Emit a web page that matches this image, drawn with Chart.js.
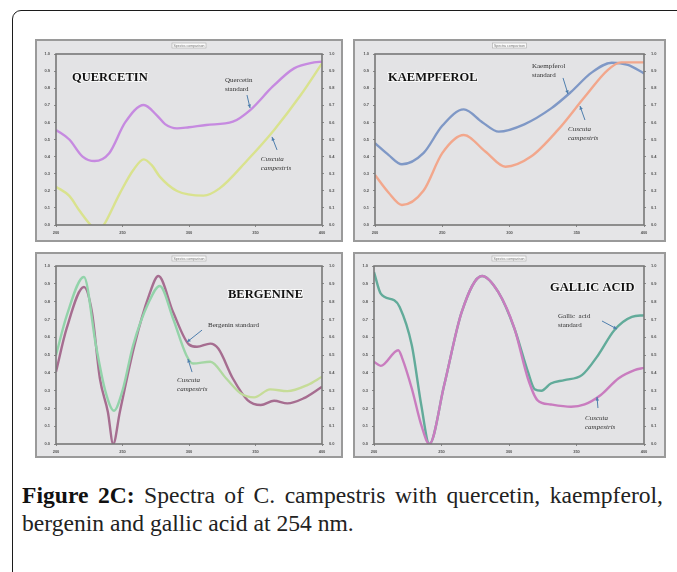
<!DOCTYPE html>
<html>
<head>
<meta charset="utf-8">
<title>Figure 2C</title>
<script src="https://cdn.jsdelivr.net/npm/chart.js@4.4.1/dist/chart.umd.min.js"></script>
<style>
    html, body { margin: 0; padding: 0; background: #fff; width: 677px; height: 572px; overflow: hidden; }
    #frame { position: absolute; left: 12px; top: 10px; width: 720px; height: 620px; border: 1.5px solid #1c1c1c; border-radius: 9px; box-sizing: border-box; }
    .panel { position: absolute; box-sizing: border-box; border: 2px solid #9a9a9a; background: #e5e5e7; }
    .panel canvas { position: absolute; left: 0; top: 0; }
    #caption { position: absolute; left: 22px; top: 481px; width: 641px; font-family: "Liberation Serif", serif; font-size: 23.6px; line-height: 28px; color: #222; }
    #caption .l1 { text-align: justify; text-align-last: justify; white-space: nowrap; }
    #caption b { color: #111; }
</style>
</head>
<body>
<div id="frame"></div>
<div class="panel" id="p0"><canvas id="c0"></canvas></div>
<div class="panel" id="p1"><canvas id="c1"></canvas></div>
<div class="panel" id="p2"><canvas id="c2"></canvas></div>
<div class="panel" id="p3"><canvas id="c3"></canvas></div>
<div id="caption">
    <div class="l1"><b>Figure 2C:</b> Spectra of C. campestris with quercetin, kaempferol,</div>
    <div>bergenin and gallic acid at 254 nm.</div>
</div>

<script>
// ---------- tick labels ----------
const xTickLabels = ["200", "250", "300", "350", "400"];
const yTickLabels = ["0.0", "0.1", "0.2", "0.3", "0.4", "0.5", "0.6", "0.7", "0.8", "0.9", "1.0"];

// ---------- quercetin ----------
const quercetinStdNm  = [200, 210, 220, 229, 240, 252, 266, 276, 282, 291, 300, 313, 333, 346, 363, 379, 394, 400];
const quercetinStdAbs = [0.556, 0.50, 0.40, 0.374, 0.42, 0.60, 0.702, 0.64, 0.59, 0.565, 0.572, 0.585, 0.604, 0.672, 0.81, 0.916, 0.951, 0.955];
const quercetinCcNm   = [200, 210, 218, 226, 232, 236, 248, 258, 266, 272, 278, 291, 311, 323, 344, 364, 384, 400];
const quercetinCcAbs  = [0.224, 0.17, 0.08, 0.0, -0.04, 0.0, 0.185, 0.32, 0.384, 0.35, 0.283, 0.199, 0.172, 0.214, 0.38, 0.556, 0.76, 0.945];

// ---------- kaempferol ----------
const kaempferolStdNm  = [200, 210, 220, 236, 250, 266, 280, 292, 311, 331, 346, 361, 376, 388, 400];
const kaempferolStdAbs = [0.478, 0.41, 0.355, 0.42, 0.58, 0.676, 0.60, 0.546, 0.589, 0.682, 0.78, 0.891, 0.949, 0.936, 0.887];
const kaempferolCcNm   = [200, 210, 220, 236, 250, 266, 282, 297, 316, 336, 356, 373, 383, 400];
const kaempferolCcAbs  = [0.292, 0.19, 0.117, 0.20, 0.42, 0.526, 0.43, 0.341, 0.40, 0.556, 0.75, 0.906, 0.951, 0.951];

// ---------- bergenin ----------
const bergeninStdNm  = [200, 208, 221, 227, 233, 239, 243, 248, 259, 270, 277, 288, 300, 306, 316, 322, 333, 344, 354, 364, 374, 386, 400];
const bergeninStdAbs = [0.406, 0.649, 0.882, 0.742, 0.368, 0.18, 0.0, 0.18, 0.555, 0.836, 0.944, 0.742, 0.559, 0.546, 0.564, 0.536, 0.368, 0.247, 0.219, 0.243, 0.228, 0.256, 0.321];
const bergeninCcNm   = [200, 208, 221, 230, 237, 243.6, 250, 258, 270, 278, 288, 298, 303, 316, 328, 339, 349, 361, 374, 389, 400];
const bergeninCcAbs  = [0.499, 0.72, 0.938, 0.555, 0.30, 0.187, 0.30, 0.555, 0.80, 0.888, 0.705, 0.499, 0.452, 0.462, 0.368, 0.284, 0.262, 0.307, 0.297, 0.331, 0.378];

// ---------- gallic acid ----------
const gallicStdNm  = [200, 205, 215, 219, 228, 235, 241, 252, 265, 280, 292, 304, 314, 319, 324, 331, 341, 354, 366, 378, 391, 400];
const gallicStdAbs = [0.966, 0.845, 0.807, 0.77, 0.555, 0.219, 0.0, 0.331, 0.742, 0.944, 0.854, 0.649, 0.406, 0.308, 0.299, 0.34, 0.359, 0.387, 0.499, 0.639, 0.714, 0.723];
const gallicCcNm   = [200, 205, 218, 221, 228, 235, 241, 252, 265, 280, 292, 304, 314, 321, 331, 346, 356, 368, 381, 393, 400];
const gallicCcAbs  = [0.462, 0.439, 0.527, 0.48, 0.312, 0.107, 0.0, 0.331, 0.742, 0.944, 0.854, 0.649, 0.368, 0.247, 0.222, 0.209, 0.222, 0.275, 0.368, 0.415, 0.428];

// ---------- helpers ----------

// Associe deux listes (nm, absorbance) en points {x, y}
function toPoints(xs, ys) {
    return xs.map((x, i) => ({ x: x, y: ys[i] }));
}

// Dégradé horizontal (la courbe verte de la bergénine tire sur le jaune à droite)
function horizontalGradient(from, to) {
    return function (context) {
        const area = context.chart.chartArea;
        if (!area) return from;
        const g = context.chart.ctx.createLinearGradient(area.left, 0, area.right, 0);
        g.addColorStop(0, from);
        g.addColorStop(0.45, from);
        g.addColorStop(0.75, to);
        g.addColorStop(1, to);
        return g;
    };
}

// Position / taille des quatre cadres dans la page
const panelBoxes = [
    { left: 35,  top: 39,  width: 308, height: 203, plot: [56, 54, 322, 225] },
    { left: 353, top: 39,  width: 313, height: 203, plot: [375, 54, 644, 225] },
    { left: 35,  top: 252, width: 308, height: 206, plot: [56, 266, 322, 444] },
    { left: 353, top: 252, width: 313, height: 206, plot: [374, 266, 644, 444] }
];

// Dessin des décors : fond de la zone de tracé, cadre, petit titre, étiquettes, flèches
const panelDecor = {
    id: "panelDecor",
    beforeDraw(chart) {
        const { ctx, chartArea: a } = chart;
        ctx.save();
        ctx.fillStyle = "#e3e3e5";
        ctx.fillRect(a.left, a.top, a.width, a.height);
        ctx.restore();
    },
    afterDraw(chart, args, opts) {
        const { ctx, chartArea: a, scales } = chart;
        const px = v => scales.x.getPixelForValue(v);
        const py = v => scales.y.getPixelForValue(v);
        ctx.save();

        // cadre de la zone de tracé
        ctx.strokeStyle = "#777";
        ctx.lineWidth = 1.6;
        ctx.strokeRect(a.left, a.top, a.width, a.height);

        // petite boîte de titre en haut
        const cx = (a.left + a.right) / 2;
        ctx.fillStyle = "#fafafa";
        ctx.fillRect(cx - 17, 2, 34, 5);
        ctx.strokeStyle = "#aaa";
        ctx.lineWidth = 0.6;
        ctx.strokeRect(cx - 17, 2, 34, 5);
        ctx.fillStyle = "#777";
        ctx.font = "3.5px 'Liberation Sans'";
        ctx.textAlign = "center";
        ctx.textBaseline = "middle";
        ctx.fillText("Spectra comparison", cx, 4.6);

        // nom du composé
        ctx.textAlign = "left";
        ctx.font = "bold 12.5px 'Liberation Serif'";
        ctx.lineWidth = 2;
        ctx.strokeStyle = "rgba(255,255,255,0.7)";
        ctx.strokeText(opts.title.text, px(opts.title.x), py(opts.title.y));
        ctx.fillStyle = "#111";
        ctx.fillText(opts.title.text, px(opts.title.x), py(opts.title.y));

        // notes
        ctx.fillStyle = "#333";
        opts.notes.forEach(n => {
            ctx.font = (n.italic ? "italic " : "") + "7px 'Liberation Serif'";
            n.lines.forEach((line, i) => {
                ctx.fillText(line, px(n.x), py(n.y) + i * 9);
            });
        });

        // flèches
        ctx.strokeStyle = "#4f7fae";
        ctx.fillStyle = "#4f7fae";
        ctx.lineWidth = 1;
        opts.arrows.forEach(r => {
            const x1 = px(r[0]), y1 = py(r[1]), x2 = px(r[2]), y2 = py(r[3]);
            const ang = Math.atan2(y2 - y1, x2 - x1);
            ctx.beginPath();
            ctx.moveTo(x1, y1);
            ctx.lineTo(x2, y2);
            ctx.stroke();
            ctx.beginPath();
            ctx.moveTo(x2, y2);
            ctx.lineTo(x2 - 4 * Math.cos(ang - 0.45), y2 - 4 * Math.sin(ang - 0.45));
            ctx.lineTo(x2 - 4 * Math.cos(ang + 0.45), y2 - 4 * Math.sin(ang + 0.45));
            ctx.closePath();
            ctx.fill();
        });
        ctx.restore();
    }
};

// Crée un des quatre graphiques
// (Chart.js dessine le premier jeu de données par-dessus les autres)
function buildPanel(index, datasets, decor) {
    const box = panelBoxes[index];
    const div = document.getElementById("p" + index);
    div.style.left = box.left + "px";
    div.style.top = box.top + "px";
    div.style.width = box.width + "px";
    div.style.height = box.height + "px";

    const canvas = document.getElementById("c" + index);
    const cw = box.width - 4, ch = box.height - 4;
    canvas.width = cw;
    canvas.height = ch;
    canvas.style.width = cw + "px";
    canvas.style.height = ch + "px";

    const ox = box.left + 2, oy = box.top + 2;
    const m = {
        left: box.plot[0] - ox,
        top: box.plot[1] - oy,
        right: ox + cw - box.plot[2],
        bottom: oy + ch - box.plot[3]
    };

    const tickFont = { family: "'Liberation Sans'", size: 4, weight: "bold" };
    const yAxis = (position, width, pad) => ({
        position: position,
        min: 0,
        max: 1,
        afterFit(scale) { scale.width = width; },
        ticks: {
            stepSize: 0.1,
            color: "#555",
            font: tickFont,
            padding: pad,
            callback: v => yTickLabels[Math.round(v * 10)]
        },
        grid: { drawOnChartArea: false, tickLength: 2, color: "#888" },
        border: { display: false }
    });

    return new Chart(canvas.getContext("2d"), {
        type: "line",
        data: {
            datasets: datasets.map(d => ({
                data: d.data,
                borderColor: d.color,
                borderWidth: 2.4,
                pointRadius: 0,
                cubicInterpolationMode: "monotone",
                fill: false
            }))
        },
        options: {
            responsive: false,
            animation: false,
            devicePixelRatio: 1,
            layout: { padding: { top: m.top, left: 0, right: 0, bottom: 0 } },
            plugins: {
                legend: { display: false },
                tooltip: { enabled: false },
                panelDecor: decor
            },
            scales: {
                x: {
                    type: "linear",
                    min: 200,
                    max: 400,
                    afterFit(scale) { scale.height = m.bottom; },
                    ticks: {
                        stepSize: 50,
                        color: "#555",
                        font: tickFont,
                        padding: 3,
                        maxRotation: 0,
                        autoSkip: false,
                        callback: v => xTickLabels[Math.round((v - 200) / 50)]
                    },
                    grid: { drawOnChartArea: false, tickLength: 2, color: "#888" },
                    border: { display: false }
                },
                y: yAxis("left", m.left, 4),
                y2: yAxis("right", m.right, 5)
            }
        },
        plugins: [panelDecor]
    });
}

document.addEventListener("DOMContentLoaded", function () {
    buildPanel(0, [
        { data: toPoints(quercetinCcNm, quercetinCcAbs), color: "#d9e28e" },
        { data: toPoints(quercetinStdNm, quercetinStdAbs), color: "#c68ae0" }
    ], {
        title: { text: "QUERCETIN", x: 212, y: 0.86 },
        notes: [
            { lines: ["Quercetin", "standard"], x: 327, y: 0.845 },
            { lines: ["Cuscuta", "campestris"], x: 354, y: 0.385, italic: true }
        ],
        arrows: [[343.6, 0.76, 345.9, 0.684], [366.2, 0.439, 362.4, 0.515]]
    });

    buildPanel(1, [
        { data: toPoints(kaempferolCcNm, kaempferolCcAbs), color: "#f2a78c" },
        { data: toPoints(kaempferolStdNm, kaempferolStdAbs), color: "#7f98c6" }
    ], {
        title: { text: "KAEMPFEROL", x: 209.7, y: 0.86 },
        notes: [
            { lines: ["Kaempferol", "standard"], x: 316.7, y: 0.93 },
            { lines: ["Cuscuta", "campestris"], x: 343.5, y: 0.56, italic: true }
        ],
        arrows: [[339.8, 0.86, 343.5, 0.766], [356.1, 0.614, 352.4, 0.696]]
    });

    buildPanel(2, [
        { data: toPoints(bergeninCcNm, bergeninCcAbs), color: horizontalGradient("#92d3aa", "#c6dc98") },
        { data: toPoints(bergeninStdNm, bergeninStdAbs), color: "#a66d90" }
    ], {
        title: { text: "BERGENINE", x: 329.3, y: 0.84 },
        notes: [
            { lines: ["Bergenin standard"], x: 314.3, y: 0.665 },
            { lines: ["Cuscuta", "campestris"], x: 291, y: 0.36, italic: true }
        ],
        arrows: [[309.8, 0.64, 298.5, 0.573], [302.3, 0.404, 299.2, 0.478]]
    });

    // l'échantillon passe devant le standard : zone commune violacée
    buildPanel(3, [
        { data: toPoints(gallicCcNm, gallicCcAbs), color: "#c97cbf" },
        { data: toPoints(gallicStdNm, gallicStdAbs), color: "#62ab9a" }
    ], {
        title: { text: "GALLIC ACID", x: 330.4, y: 0.875 },
        notes: [
            { lines: ["Gallic  acid", "standard"], x: 336.3, y: 0.72 },
            { lines: ["Cuscuta", "campestris"], x: 356.3, y: 0.145, italic: true }
        ],
        arrows: [[368.9, 0.691, 380, 0.646], [365.9, 0.202, 365.2, 0.264]]
    });
});
</script>
</body>
</html>
